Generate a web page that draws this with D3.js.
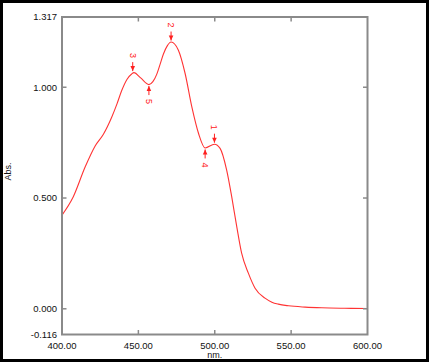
<!DOCTYPE html>
<html><head><meta charset="utf-8">
<script src="https://cdn.jsdelivr.net/npm/d3@7"></script>
<style>body{margin:0;background:#fff}svg{display:block;font-family:"Liberation Sans",Arial,sans-serif}</style>
</head><body>
<svg id="c" width="429" height="362"></svg>
<script>
const wavelength = [400,407.4,415.2,421.7,427.1,432.6,436,439.1,442.5,445.6,447.1,451.5,456.9,459.5,462,464.2,466.4,469,471.4,476.2,480.6,485,489.4,493.7,499.8,503.5,507.8,511.1,514.4,517.6,522,526.4,532.9,537.4,541.6,548.3,559.2,570,585,600];
const absorbance = [0.423,0.506,0.641,0.735,0.788,0.866,0.925,0.985,1.035,1.060,1.066,1.042,1.012,1.025,1.058,1.103,1.150,1.188,1.204,1.167,1.062,0.911,0.791,0.726,0.743,0.724,0.626,0.506,0.371,0.251,0.161,0.093,0.048,0.030,0.021,0.0135,0.0077,0.0045,0.0025,0.0014];
const peakNo = ["1","2","3","4","5"];
const peakWl = [499.8,471.4,446.3,493.7,456.9];
const peakAbs = [0.743,1.204,1.066,0.726,1.012];
const peakType = ["max","max","max","min","min"];
const yTickLabels = ["1.317","1.000","0.500","0.000","-0.116"];
const yTickValues = [1.317,1.0,0.5,0.0,-0.116];
const xTickValues = [400,450,500,550,600];

const svg = d3.select("#c");
const L=62, R=367.5, T=17, B=334.5;
const x = d3.scaleLinear().domain([400,600]).range([L,R]);
const y = d3.scaleLinear().domain([-0.116,1.317]).range([B,T]);

svg.append("rect").attr("x",1.5).attr("y",1.5).attr("width",426).attr("height",359)
  .attr("fill","none").attr("stroke","#000").attr("stroke-width",3);

// curve
const line = d3.line().x((d,i)=>x(wavelength[i])).y((d,i)=>y(absorbance[i])).curve(d3.curveMonotoneX);
svg.append("path").datum(absorbance).attr("d",line).attr("fill","none").attr("stroke","#ff3333").attr("stroke-width",1.1);

// frame
const axCol="#8a8a8a";
svg.append("rect").attr("x",L).attr("y",T).attr("width",R-L).attr("height",B-T)
  .attr("fill","none").attr("stroke",axCol).attr("stroke-width",2);

const innerY = yTickValues.filter(v=>v===1||v===0.5||v===0);
innerY.forEach(v=>{
  svg.append("line").attr("x1",L).attr("x2",L+4.5).attr("y1",y(v)).attr("y2",y(v)).attr("stroke",axCol).attr("stroke-width",1.5);
  svg.append("line").attr("x1",R-4.5).attr("x2",R).attr("y1",y(v)).attr("y2",y(v)).attr("stroke",axCol).attr("stroke-width",1.5);
});
xTickValues.slice(1,-1).forEach(v=>{
  svg.append("line").attr("x1",x(v)).attr("x2",x(v)).attr("y1",B).attr("y2",B-4.5).attr("stroke",axCol).attr("stroke-width",1.5);
  svg.append("line").attr("x1",x(v)).attr("x2",x(v)).attr("y1",T).attr("y2",T+4.5).attr("stroke",axCol).attr("stroke-width",1.5);
});

// tick labels
yTickValues.forEach((v,i)=>{
  svg.append("text").attr("x",L-5).attr("y",y(v)).attr("dy","0.35em").attr("text-anchor","end")
    .attr("font-size",9.5).attr("fill","#111").text(yTickLabels[i]);
});
xTickValues.forEach(v=>{
  svg.append("text").attr("x",x(v)).attr("y",B+14).attr("text-anchor","middle")
    .attr("font-size",9.5).attr("fill","#111").text(d3.format(".2f")(v));
});
svg.append("text").attr("x",x(500)).attr("y",B+23.5).attr("text-anchor","middle").attr("font-size",9).attr("fill","#111").text("nm.");
svg.append("text").attr("transform",`translate(11,${y(0.62)}) rotate(-90)`).attr("text-anchor","middle").attr("font-size",9).attr("fill","#111").text("Abs.");

// peak markers
peakNo.forEach((n,i)=>{
  const px=x(peakWl[i]), py=y(peakAbs[i]);
  const s = peakType[i]==="max" ? -1 : 1;
  const tip = py + s*1.5;
  svg.append("line").attr("x1",px).attr("x2",px).attr("y1",tip).attr("y2",tip+s*9).attr("stroke","#ff2020").attr("stroke-width",1);
  svg.append("path").attr("d",`M${px},${tip} L${px-2.3},${tip+s*5} L${px+2.3},${tip+s*5} Z`).attr("fill","#ff2020");
  svg.append("text").attr("transform",`translate(${px},${tip+s*15.5}) rotate(90)`).attr("text-anchor","middle").attr("dy","0.35em")
    .attr("font-size",9).attr("fill","#ff2020").text(n);
});
</script>
</body></html>
